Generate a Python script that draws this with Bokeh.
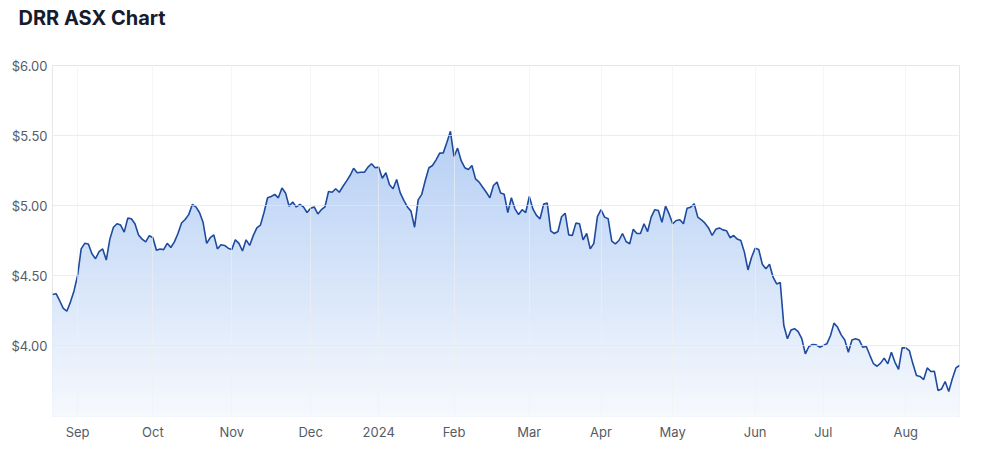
import numpy as np
import pandas as pd
from bokeh.plotting import figure
from bokeh.models import Range1d, FixedTicker, NumeralTickFormatter, Title
from bokeh.embed import file_html
from bokeh.resources import INLINE

# ---- data ----
title_text = "DRR ASX Chart"
start_date = "2023-08-23"
end_date = "2024-08-22"
asx_holidays = ["2023-12-25", "2023-12-26", "2024-01-01", "2024-01-26",
                "2024-03-29", "2024-04-01", "2024-04-25", "2024-06-10"]

prices = [
    4.365, 4.37, 4.32, 4.265, 4.245, 4.31, 4.39, 4.50, 4.69, 4.73, 4.725, 4.655, 4.62, 4.67,
    4.69, 4.61, 4.76, 4.845, 4.87, 4.86, 4.81, 4.91, 4.905, 4.87, 4.79, 4.76, 4.74, 4.785,
    4.77, 4.68, 4.69, 4.685, 4.73, 4.70,
    4.74, 4.80, 4.875, 4.90, 4.935, 5.007, 4.99, 4.95, 4.88, 4.73, 4.77, 4.79, 4.69, 4.72,
    4.715, 4.695, 4.685, 4.755, 4.73, 4.675, 4.755, 4.715, 4.785, 4.84, 4.86, 4.95, 5.055,
    5.064, 5.08, 5.055, 5.125, 5.09, 4.995,
    5.025, 4.99, 5.007, 4.99, 4.95, 4.98, 4.99, 4.94, 4.97, 4.99, 5.10, 5.095, 5.12, 5.095,
    5.136, 5.174, 5.214, 5.266, 5.234, 5.238, 5.238, 5.274, 5.298, 5.27, 5.274, 5.195, 5.234,
    5.148, 5.12, 5.186, 5.09, 5.036, 4.99,
    4.96, 4.845, 5.04, 5.08, 5.18, 5.27, 5.286, 5.326, 5.374, 5.376, 5.45, 5.53, 5.35, 5.41,
    5.32, 5.27, 5.257, 5.286, 5.19, 5.167, 5.13, 5.095, 5.055, 5.143, 5.167, 5.09, 5.08, 4.95,
    5.055, 4.976, 4.936, 4.97, 4.95, 5.064,
    4.976, 4.93, 4.905, 5.01, 5.017, 4.817, 4.80, 4.814, 4.92, 4.945, 4.79, 4.786, 4.874, 4.87,
    4.755, 4.80, 4.69, 4.73, 4.92, 4.97, 4.917, 4.905, 4.745, 4.726, 4.75, 4.80, 4.743, 4.726,
    4.83, 4.80, 4.80, 4.87, 4.814,
    4.917, 4.97, 4.964, 4.88, 4.995, 4.94, 4.87, 4.893, 4.898, 4.87, 4.98, 4.988, 5.012, 4.917,
    4.898, 4.874, 4.84, 4.786, 4.83, 4.84, 4.826, 4.82, 4.77, 4.786, 4.76, 4.75, 4.667, 4.54,
    4.63, 4.695, 4.686, 4.58, 4.548, 4.58,
    4.488, 4.44, 4.45, 4.143, 4.048, 4.11, 4.12, 4.10, 4.05, 3.94, 3.993, 4.007, 4.005, 3.988,
    4.00, 4.012, 4.07, 4.16, 4.13, 4.076, 4.04, 3.952, 4.04, 4.048, 4.04, 3.988, 3.993, 3.93,
    3.87, 3.852, 3.874,
    3.91, 3.869, 3.952, 3.88, 3.829, 3.983, 3.983, 3.964, 3.869, 3.786, 3.779, 3.757, 3.84,
    3.814, 3.816, 3.679, 3.69, 3.743, 3.671, 3.762, 3.84, 3.857,
]

y_ticks = [4.0, 4.5, 5.0, 5.5, 6.0]

# ---- trading-day axis ----
dates = pd.bdate_range(start_date, end_date)
dates = dates[~dates.isin(pd.to_datetime(asx_holidays))]
n = min(len(dates), len(prices))
dates = dates[:n]
price_arr = np.array(prices[:n])
x = np.arange(n)

tick_pos = [i for i in range(1, n) if dates[i].month != dates[i - 1].month]
tick_lab = {i: (dates[i].strftime("%Y") if dates[i].month == 1 else dates[i].strftime("%b"))
            for i in tick_pos}

y_bottom = 3.493
y_top = 6.0

p = figure(width=980, height=445, output_backend="svg", toolbar_location=None,
           x_range=Range1d(0, n - 1), y_range=Range1d(y_bottom, y_top),
           min_border_left=52, min_border_right=21, min_border_top=65, min_border_bottom=29)

# spacer (closest to the frame), then the real title above it
p.add_layout(Title(text=" ", text_font_size="16px", standoff=10,
                   text_color="white"), "above")
p.add_layout(Title(text=title_text, text_font="Inter", text_font_size="20px",
                   text_font_style="bold", text_color="#161b2e", align="left",
                   vertical_align="top", offset=-34), "above")

p.background_fill_color = "white"
p.border_fill_color = "white"
p.outline_line_color = "#e6e6e6"

# gradient-like area fill drawn as stacked bands
levels = np.linspace(y_bottom, 5.56, 60)
top_rgb = np.array([182, 207, 245])
bot_rgb = np.array([247, 250, 254])
for lv in levels[::-1]:
    t = (lv - y_bottom) / (5.56 - y_bottom)
    rgb = (bot_rgb + (top_rgb - bot_rgb) * t).astype(int)
    col = "#%02x%02x%02x" % tuple(rgb)
    p.varea(x=x, y1=np.full(n, y_bottom), y2=np.minimum(price_arr, lv), fill_color=col,
            fill_alpha=1.0)

p.line(x, price_arr, line_color="#1f4b9e", line_width=1.6)

# axes
p.xaxis.ticker = FixedTicker(ticks=tick_pos)
p.xaxis.major_label_overrides = tick_lab
p.yaxis.ticker = FixedTicker(ticks=y_ticks)
p.yaxis.formatter = NumeralTickFormatter(format="$0.00")
for ax in (p.xaxis[0], p.yaxis[0]):
    ax.axis_line_color = None
    ax.major_tick_line_color = None
    ax.minor_tick_line_color = None
    ax.major_tick_out = 0
    ax.major_tick_in = 0
    ax.major_label_text_font = "Inter"
    ax.major_label_text_font_size = "13px"
    ax.major_label_text_color = "#555b66"
p.xaxis.major_label_standoff = 7
p.yaxis.major_label_standoff = 5

p.xgrid.grid_line_color = "#f0f0f0"
p.ygrid.grid_line_color = "#e6e6e6"
p.xgrid.level = "overlay"
p.ygrid.level = "overlay"
p.xgrid.grid_line_alpha = 0.6
p.ygrid.grid_line_alpha = 0.7

open("out.html", "w").write(file_html(p, INLINE))
